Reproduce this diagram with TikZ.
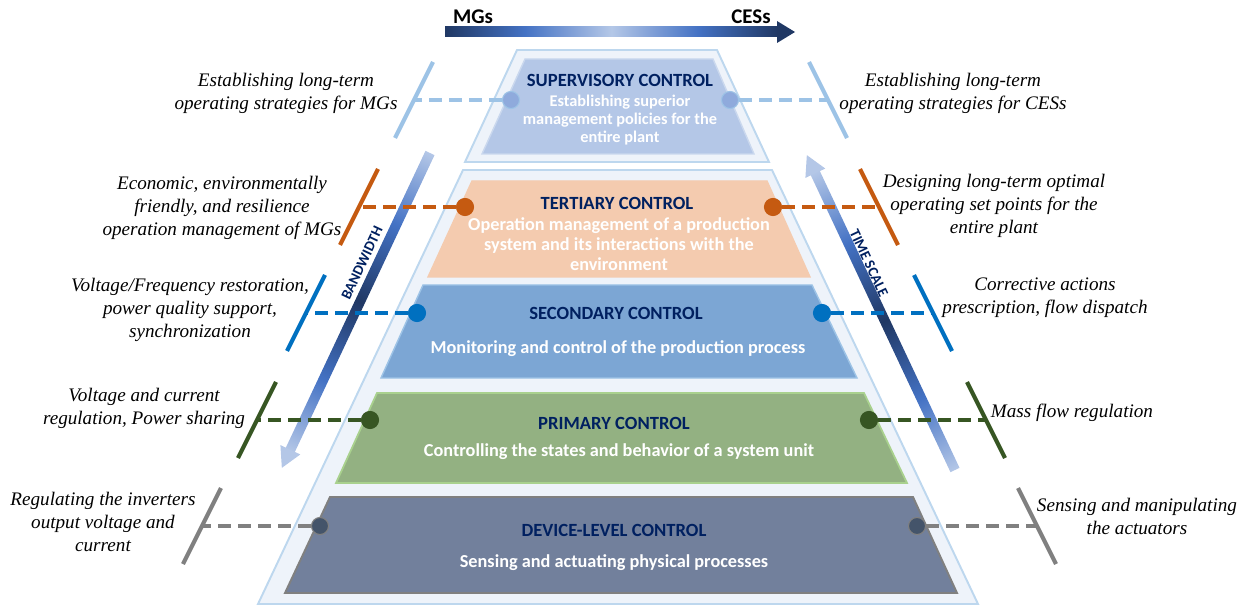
\documentclass[tikz,border=0pt]{standalone}
\usepackage{fontspec}
\setmainfont{Liberation Serif}
\newfontfamily\boxfont{Carlito}
\usetikzlibrary{positioning}

\definecolor{navy}{HTML}{002060}
\definecolor{outerfill}{HTML}{EEF3FA}
\definecolor{outerline}{HTML}{BDD7EE}
\definecolor{supfill}{HTML}{B4C7E7}
\definecolor{supdot}{HTML}{8FAADC}
\definecolor{supline}{HTML}{9DC3E6}
\definecolor{terfill}{HTML}{F4CBAF}
\definecolor{terdot}{HTML}{C55A11}
\definecolor{secfill}{HTML}{7CA6D4}
\definecolor{secdot}{HTML}{0070C0}
\definecolor{prifill}{HTML}{93B182}
\definecolor{priline}{HTML}{A9D18E}
\definecolor{pridot}{HTML}{375623}
\definecolor{devfill}{HTML}{72809C}
\definecolor{devdot}{HTML}{44546A}
\definecolor{devline}{HTML}{808080}
\definecolor{arrdark}{HTML}{203864}
\definecolor{arrmid}{HTML}{4472C4}
\definecolor{arrlight}{HTML}{B4C7E7}

\pgfdeclarehorizontalshading{topgrad}{100bp}{color(0bp)=(arrdark); color(25bp)=(arrdark); color(37bp)=(arrmid); color(50bp)=(arrlight); color(63bp)=(arrmid); color(75bp)=(arrdark); color(100bp)=(arrdark)}
\pgfdeclarehorizontalshading{scalegrad}{100bp}{color(0bp)=(arrlight); color(25bp)=(arrlight); color(37bp)=(arrmid); color(50bp)=(arrdark); color(63bp)=(arrmid); color(75bp)=(arrlight); color(100bp)=(arrlight)}

\tikzset{
  layertitle/.style={text=navy, font=\boxfont\bfseries\fontsize{10.6}{12}\selectfont},
  layertext/.style={text=white, font=\boxfont\bfseries\fontsize{10.4}{11.4}\selectfont, align=center},
  note/.style={font=\itshape\fontsize{10.9}{13.1}\selectfont, align=center},
  dot/.style={circle, inner sep=0pt, minimum size=9.7pt, line width=0.6pt},
  conn/.style={line width=2.3pt, dash pattern=on 7.4pt off 4pt},
  tick/.style={line width=2.3pt},
  axistext/.style={text=navy, font=\boxfont\bfseries\fontsize{8.4}{9}\selectfont},
  endtext/.style={font=\boxfont\bfseries\fontsize{11.9}{13}\selectfont}
}

\begin{document}
\begin{tikzpicture}[x=0.02cm, y=-0.02cm]
    \useasboundingbox (0,0) rectangle (1249,608);

    % Outer frames
    \draw[outerline, line width=1.1pt, fill=outerfill] (517,50) -- (717,50) -- (769,162) -- (465,162) -- cycle;
    \draw[outerline, line width=1.1pt, fill=outerfill] (463,170) -- (772,170) -- (978,604) -- (258,604) -- cycle;

    % Control layers
    \draw[supfill!70!white, line width=0.8pt, fill=supfill] (525,59) -- (713,59) -- (754,154) -- (482,154) -- cycle;
    \draw[terfill, line width=0.8pt, fill=terfill] (472,181) -- (767,181) -- (810,277) -- (428,277) -- cycle;
    \draw[supline, line width=0.8pt, fill=secfill] (423,285) -- (812,285) -- (857,378) -- (381,378) -- cycle;
    \draw[priline, line width=1pt, fill=prifill] (377,393) -- (864,393) -- (907,483) -- (336,483) -- cycle;
    \draw[devline, line width=1.1pt, fill=devfill] (330,497) -- (913,497) -- (957,593) -- (285,593) -- cycle;

    % Layer names and tasks
    \node[layertitle] (sup-title) at (620,80) {SUPERVISORY CONTROL};
    \node[layertext, font=\boxfont\bfseries\fontsize{9.3}{10.2}\selectfont] (sup-text) at (620,120) {Establishing superior\\management policies for the\\entire plant};
    \node[layertitle] (ter-title) at (617,203) {TERTIARY CONTROL};
    \node[layertext] (ter-text) at (619,244) {Operation management of a production\\system and its interactions with the\\environment};
    \node[layertitle] (sec-title) at (616,313) {SECONDARY CONTROL};
    \node[layertext] (sec-text) at (618,349) {Monitoring and control of the production process};
    \node[layertitle] (pri-title) at (614,423) {PRIMARY CONTROL};
    \node[layertext] (pri-text) at (619,452) {Controlling the states and behavior of a system unit};
    \node[layertitle] (dev-title) at (614,530) {DEVICE-LEVEL CONTROL};
    \node[layertext] (dev-text) at (614,563) {Sensing and actuating physical processes};

    % From MGs to CESs
    \node[endtext] (mgs) at (473,17) {MGs};
    \node[endtext] (cess) at (751,17) {CESs};
    \shade[shading=topgrad] (445,27) rectangle (778,37);
    \fill[arrdark] (777,21) -- (795,32) -- (777,43) -- cycle;

    % Bandwidth and time scale
    \begin{scope}[transform canvas={shift={(430,153)}, rotate=-115.2}]
        \shade[shading=scalegrad] (0,-5) rectangle (330,5);
        \fill[arrlight] (328,-11) -- (348,0) -- (328,11) -- cycle;
    \end{scope}
    \begin{scope}[transform canvas={shift={(955,470)}, rotate=115.2}]
        \shade[shading=scalegrad] (0,-5) rectangle (330,5);
        \fill[arrlight] (328,-11) -- (348,0) -- (328,11) -- cycle;
    \end{scope}
    \node[axistext, rotate=64.8] (bw) at (362,263) {BANDWIDTH};
    \node[axistext, rotate=-64.8] (ts) at (869,263) {TIME SCALE};

    % Dots, dashed links and ticks
    \foreach \nm/\yy/\dotl/\dotr/\tkl/\tkr/\dotc/\linec in {
        sup/100/511/730/414/828/supdot/supline,
        ter/207/465/773/359/879/terdot/terdot,
        sec/313/417/822/306/933/secdot/secdot,
        pri/420/370/869/257/986/pridot/pridot,
        dev/526/320/917/202/1037/devdot/devline}{
        \coordinate (\nm-tl) at (\tkl,\yy);
        \coordinate (\nm-tr) at (\tkr,\yy);
        \draw[tick,\linec] (\tkl+19,\yy-38) -- (\tkl-19,\yy+38);
        \draw[tick,\linec] (\tkr-19,\yy-38) -- (\tkr+19,\yy+38);
        \node[dot, fill=\dotc, draw=\linec] (\nm-dl) at (\dotl,\yy) {};
        \node[dot, fill=\dotc, draw=\linec] (\nm-dr) at (\dotr,\yy) {};
        \draw[conn,\linec] (\nm-dl) -- (\nm-tl);
        \draw[conn,\linec] (\nm-dr) -- (\nm-tr);
    }

    % Notes on the MG side
    \node[note] (sup-mg) at (286,93) {Establishing long-term\\operating strategies for MGs};
    \node[note] (ter-mg) at (222,208) {Economic, environmentally\\friendly, and resilience\\operation management of MGs};
    \node[note] (sec-mg) at (190,310) {Voltage/Frequency restoration,\\power quality support,\\synchronization};
    \node[note] (pri-mg) at (144,408) {Voltage and current\\regulation, Power sharing};
    \node[note] (dev-mg) at (103,522) {Regulating the inverters\\output voltage and\\current};

    % Notes on the CES side
    \node[note] (sup-ces) at (953,93) {Establishing long-term\\operating strategies for CESs};
    \node[note] (ter-ces) at (994,206) {Designing long-term optimal\\operating set points for the\\entire plant};
    \node[note] (sec-ces) at (1045,298) {Corrective actions\\prescription, flow dispatch};
    \node[note] (pri-ces) at (1072,413) {Mass flow regulation};
    \node[note] (dev-ces) at (1137,516) {Sensing and manipulating\\the actuators};

\end{tikzpicture}
\end{document}
